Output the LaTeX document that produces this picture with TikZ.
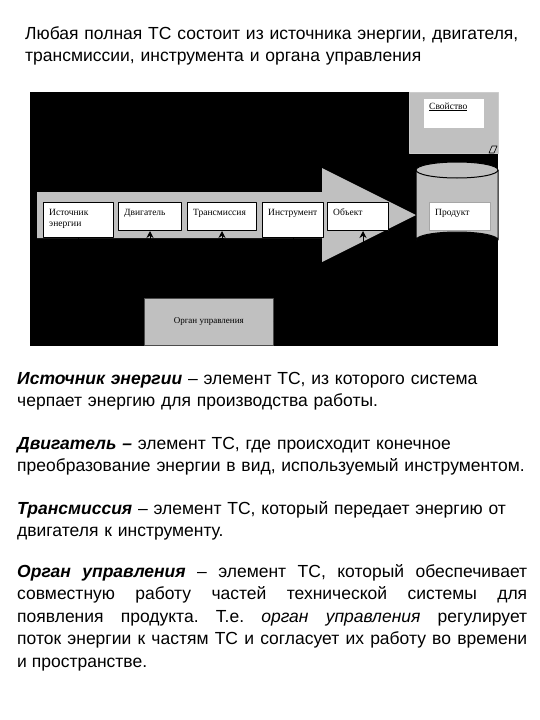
\documentclass[tikz,border=0pt]{standalone}
\usepackage{fontspec}
\usetikzlibrary{arrows.meta}
\setmainfont{Liberation Sans}
\newfontfamily\tnr{Liberation Serif}
\definecolor{panel}{HTML}{C0C0C0}
\frenchspacing
\begin{document}
\begin{tikzpicture}[x=1pt, y=-1pt, >={Stealth[length=7pt, width=7pt]}, line join=round,
	unit/.style={draw, fill=white, line width=1pt, anchor=north west, inner sep=0pt},
	tag/.style={anchor=base west, inner sep=0pt, xshift=6pt, yshift=-13pt, align=left,
		font=\tnr\fontsize{9.5}{11}\selectfont},
	conn/.style={draw=black, line width=1pt},
	feed/.style={draw=black!65, double=black, double distance=3.5pt, line width=0.6pt},
	txt/.style={anchor=north west, inner sep=0pt, text width=512pt,
		font=\fontsize{17.5}{22.5}\selectfont}]
	\useasboundingbox (0,0) rectangle (540,720);
	% Заголовок
	\node[txt, align=left] (head) at (25,26) {Любая полная ТС состоит из источника энергии, двигателя,\\
		трансмиссии, инструмента и органа управления};
	% Схема
	\fill[black] (30,92) rectangle (498,346);
	\fill[panel] (37,192) -- (322,192) -- (322,168) -- (416,215) -- (322,262) -- (322,238) -- (37,238) -- cycle;
	\node[unit, minimum width=70, minimum height=35, label={[tag, yshift=-11pt]north west:Источник\\энергии}] (ist) at (43,202) {};
	\node[unit, minimum width=63, minimum height=28, label={[tag]north west:Двигатель}] (dvig) at (118,202) {};
	\node[unit, minimum width=69, minimum height=28, label={[tag]north west:Трансмиссия}] (trans) at (187,202) {};
	\node[unit, minimum width=61, minimum height=35, label={[tag]north west:Инструмент}] (instr) at (262,202) {};
	\node[unit, minimum width=61, minimum height=28, label={[tag]north west:Объект}] (obj) at (327,202) {};
	% Продукт
	\draw[fill=panel, line width=1pt] (416,170) -- (416,240) arc[start angle=180, end angle=360, x radius=41, y radius=8] -- (498,170);
	\draw[fill=panel, line width=1pt] (457,170) ellipse[x radius=41, y radius=8];
	\node[unit, draw=gray!70, line width=0.5pt, minimum width=61, minimum height=28, label={[tag]north west:Продукт}] (prod) at (429,202) {};
	% Свойство
	\node[unit, fill=panel, draw=gray!40, line width=0.5pt, minimum width=89, minimum height=61] (prop) at (409,92) {};
	\node[unit, draw=none, minimum width=60, minimum height=29, label={[tag, yshift=2pt]north west:\underline{Свойство}}] (propin) at (423,98) {};
	\draw[fill=gray!40, line width=0.6pt] (489,153) -- (492,146) -- (497,146) -- (494,153) -- cycle;
	% Орган управления
	\node[unit, fill=panel, draw=black!70, line width=0.5pt, minimum width=129, minimum height=47,
		font=\tnr\fontsize{9}{10}\selectfont] (ctrl) at (144,298) {Орган управления};
	\coordinate (tb) at (trans.south |- 0,238);
	\draw[feed] (ctrl.north -| tb) -- (tb);
	\draw[conn,->] (tb) -- (trans.south);
	\draw[conn,->] (ctrl.north -| dvig.south) -- (dvig.south);
	\draw[conn,->] (ctrl.east) -| ([xshift=5pt]obj.south);
	\draw[conn] (ist.south) |- (ctrl.west);
	\draw[conn] (instr.south) |- (ctrl.east);
	% Определения
	\node[txt, align=left] (p1) at (17,372) {\textbf{\textit{Источник энергии}} – элемент ТС, из которого система\\
		черпает энергию для производства работы.};
	\node[txt, align=left] (p2) at (17,437) {\textbf{\textit{Двигатель –}} элемент ТС, где происходит конечное\\
		преобразование энергии в вид, используемый инструментом.};
	\node[txt, align=left] (p3) at (17,501) {\textbf{\textit{Трансмиссия}} – элемент ТС, который передает энергию от\\
		двигателя к инструменту.};
	\node[txt, text width=510pt, align=justify] (p4) at (17,564) {\textbf{\textit{Орган управления}} – элемент ТС, который обеспечивает\linebreak
		совместную работу частей технической системы для\linebreak
		появления продукта. Т.е. \textit{орган управления} регулирует\linebreak
		поток энергии к частям ТС и согласует их работу во времени\linebreak
		и пространстве.};
\end{tikzpicture}
\end{document}
